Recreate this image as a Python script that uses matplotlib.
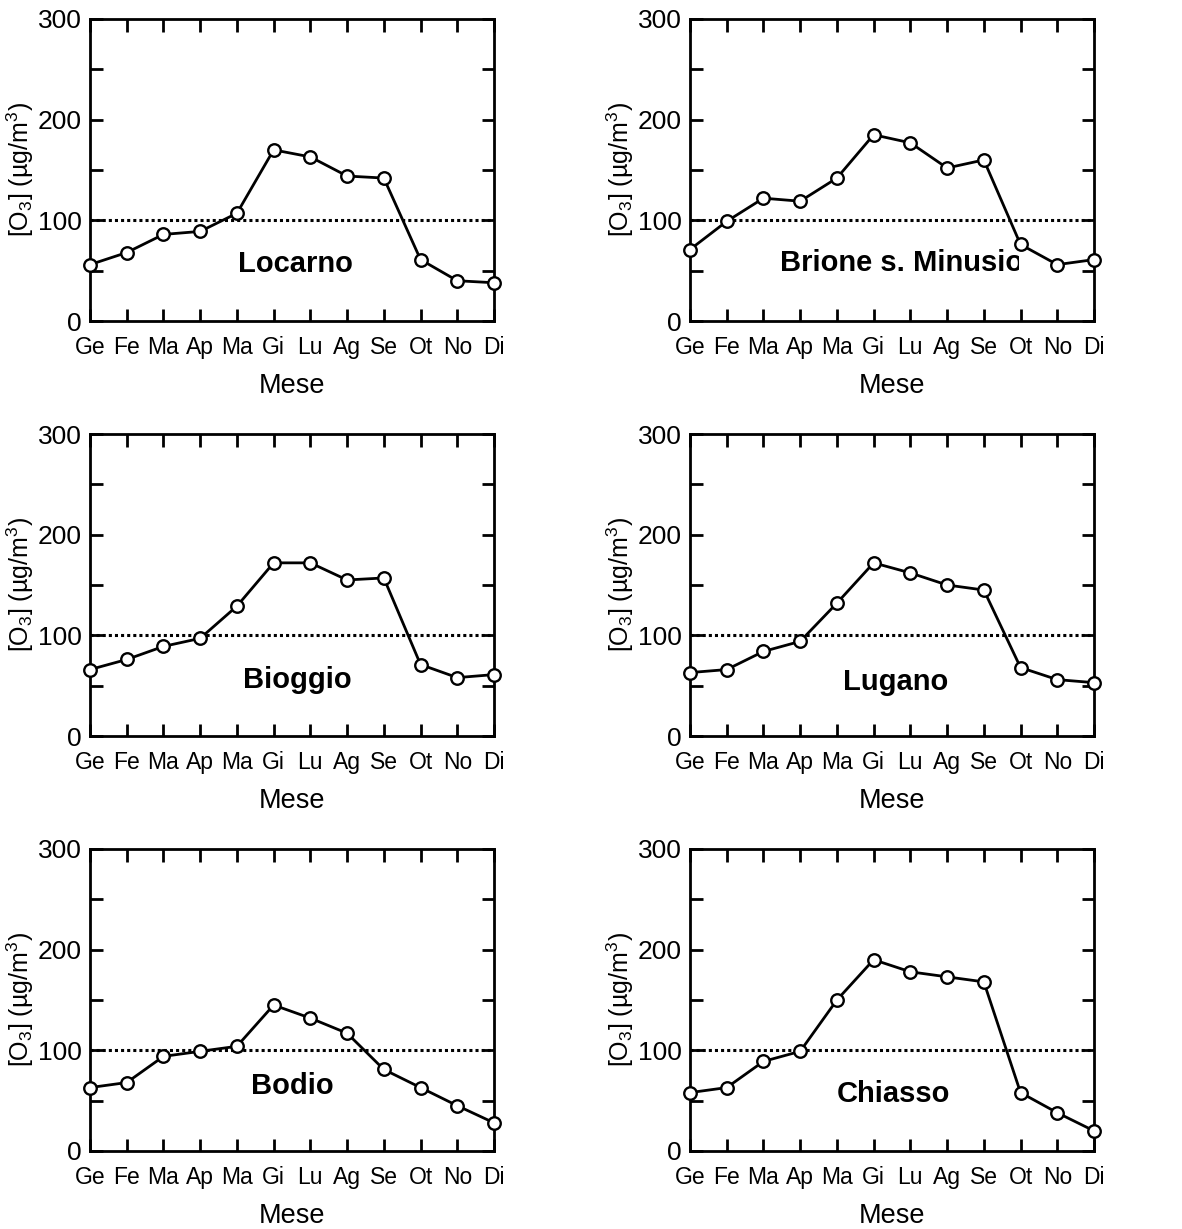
import matplotlib
matplotlib.use('Agg')
import matplotlib.pyplot as plt
from matplotlib.ticker import MultipleLocator
from matplotlib.transforms import Bbox, TransformedBbox

plt.rcParams['font.family'] = ['Liberation Sans', 'DejaVu Sans']
plt.rcParams['mathtext.default'] = 'regular'

months = ['Ge', 'Fe', 'Ma', 'Ap', 'Ma', 'Gi', 'Lu', 'Ag', 'Se', 'Ot', 'No', 'Di']

stations = ['Locarno', 'Brione s. Minusio', 'Bioggio', 'Lugano', 'Bodio', 'Chiasso']

locarno = [56, 68, 86, 89, 107, 170, 163, 144, 142, 61, 40, 38]
brione = [71, 99, 122, 119, 142, 185, 177, 152, 160, 76, 56, 61]
bioggio = [66, 76, 89, 97, 129, 172, 172, 155, 157, 71, 58, 61]
lugano = [63, 66, 84, 94, 132, 172, 162, 150, 145, 68, 56, 53]
bodio = [63, 68, 94, 99, 104, 145, 132, 117, 81, 63, 45, 28]
chiasso = [58, 63, 89, 99, 150, 190, 178, 173, 168, 58, 38, 20]

series = [locarno, brione, bioggio, lugano, bodio, chiasso]
limit = 100

# label position (x, y in data units) and alignment for each station
label_pos = [(5.6, 57, 'center'), (2.45, 58, 'left'), (5.65, 56, 'center'),
             (5.6, 54, 'center'), (5.5, 65, 'center'), (5.55, 57, 'center')]

fig = plt.figure(figsize=(11.82, 12.29), dpi=100)
W, H = 1182.0, 1229.0
lefts = [90, 690]
tops = [19, 434, 849]
aw, ah = 404, 302

x = list(range(len(months)))

for i, (name, vals) in enumerate(zip(stations, series)):
    col, row = i % 2, i // 2
    ax = fig.add_axes([lefts[col] / W, 1 - (tops[row] + ah) / H, aw / W, ah / H])
    ax.axhline(limit, color='black', linestyle=(0, (1, 1)), linewidth=2.2, zorder=1)
    ax.plot(x, vals, color='black', linewidth=2, marker='o', markersize=9,
            markerfacecolor='white', markeredgecolor='black', markeredgewidth=1.7,
            clip_on=False, zorder=3)
    ax.set_xlim(0, 11)
    ax.set_ylim(0, 300)
    ax.set_xticks(x)
    ax.set_xticklabels(months, fontsize=16.5)
    ax.yaxis.set_major_locator(MultipleLocator(100))
    ax.yaxis.set_minor_locator(MultipleLocator(50))
    ax.tick_params(which='both', direction='in', top=True, right=True,
                   length=9, width=2)
    ax.tick_params(axis='y', labelsize=19, pad=6)
    ax.tick_params(axis='x', pad=11)
    for s in ax.spines.values():
        s.set_linewidth(2)
    ax.set_xlabel('Mese', fontsize=19.5, labelpad=10)
    ax.set_ylabel('[O$_3$] (µg/m$^3$)', fontsize=18)
    ax.yaxis.set_label_coords(-0.133, 0.5)

    lx, ly, ha = label_pos[i]
    t = ax.text(lx, ly, name, fontsize=21, fontweight='bold', ha=ha, va='center', zorder=2)
    if name.startswith('Brione'):
        # the long name is cut off before the October point
        t.set_clip_box(TransformedBbox(Bbox([[0, 0], [8.95, 300]]), ax.transData))
        t.set_clip_on(True)

fig.savefig('out.png', dpi=100)
